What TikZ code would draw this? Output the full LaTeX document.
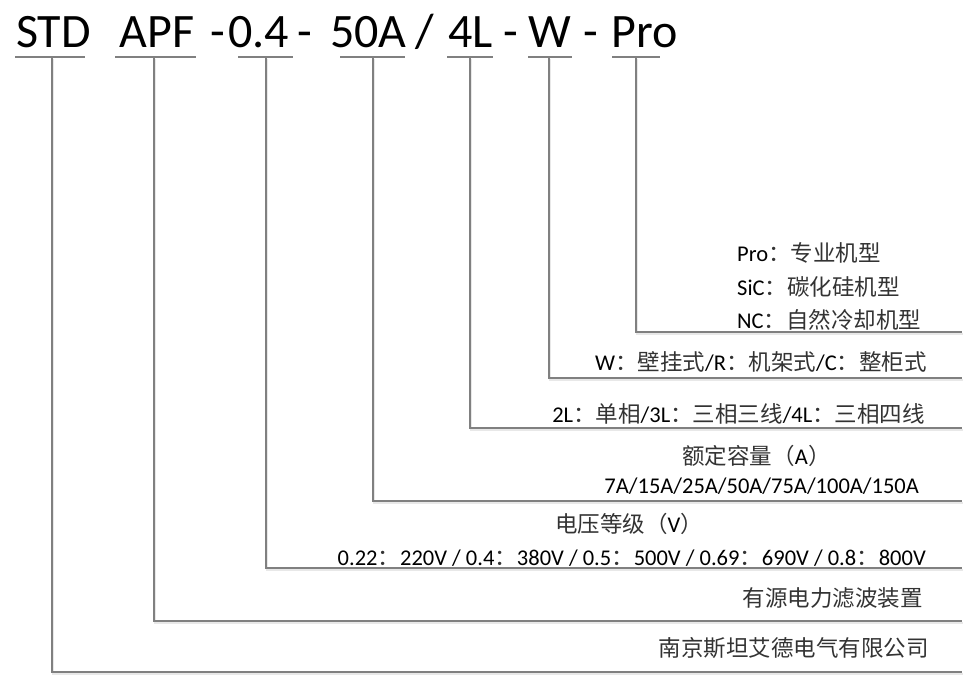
\documentclass[tikz,border=0pt]{standalone}
\usepackage{fontspec}
\setmainfont{Carlito}
\newfontfamily\cjk{Noto Sans CJK SC}
\usetikzlibrary{calc}
\usepackage{xcolor}
\definecolor{linegray}{HTML}{808080}
\definecolor{shadowgray}{HTML}{E8E8E8}
\newcommand{\zh}[1]{{\cjk\color{black!80}#1}}
\tikzset{
    code/.style={inner sep=0pt, anchor=base, font=\fontsize{48}{58}\selectfont},
    desc/.style={inner sep=0pt, font=\fontsize{22.5}{27}\selectfont},
    uline/.style={draw=linegray, line width=1.5pt},
    leader/.style={draw=linegray, line width=1.5pt, preaction={draw=shadowgray, line width=1.5pt, transform canvas={xshift=1pt, yshift=-2pt}}}
}
\begin{document}
\begin{tikzpicture}[x=1pt, y=-1pt]
    \useasboundingbox (0,0) rectangle (972,682);
    % model code
    \node [code] (std) at (53.5,48) {STD};
    \node [code] (apf) at (157,48) {APF};
    \node [code] (dasha) at (217.5,48) {-};
    \node [code] (volt) at (258.5,48) {0.4};
    \node [code] (dashb) at (305,48) {-};
    \node [code] (amp) at (368.5,48) {50A};
    \node [code] (slash) at (424.5,48) {/};
    \node [code] (wire) at (470.5,48) {4L};
    \node [code] (dashc) at (511,48) {-};
    \node [code] (mount) at (550,48) {W};
    \node [code] (dashd) at (591,48) {-};
    \node [code] (model) at (644.5,48) {Pro};

    % underlines
    \path [uline] (15,57) -- (85,57);
    \path [uline] (115,57) -- (196,57);
    \path [uline] (238,57) -- (293,57);
    \path [uline] (340,57) -- (405,57);
    \path [uline] (447,57) -- (493,57);
    \path [uline] (528,57) -- (572,57);
    \path [uline] (612,57) -- (660,57);

    \coordinate (std-u) at (52,57);     \coordinate (std-e) at (962,672);
    \coordinate (apf-u) at (154,57);    \coordinate (apf-e) at (962,621);
    \coordinate (volt-u) at (266,57);   \coordinate (volt-e) at (962,568);
    \coordinate (amp-u) at (373,57);    \coordinate (amp-e) at (962,501);
    \coordinate (wire-u) at (470,57);   \coordinate (wire-e) at (962,428);
    \coordinate (mount-u) at (549,57);  \coordinate (mount-e) at (962,378);
    \coordinate (model-u) at (636,57);  \coordinate (model-e) at (962,332);

    % descriptions
    \node [desc, anchor=base west] (pro) at (737,261) {Pro\zh{：专业机型}};
    \node [desc, anchor=base west] (sic) at (737,295) {SiC\zh{：碳化硅机型}};
    \node [desc, anchor=base west] (nc) at (737,328) {NC\zh{：自然冷却机型}};
    \node [desc, anchor=base east] (mounts) at (927,370) {W\zh{：壁挂式}/R\zh{：机架式}/C\zh{：整柜式}};
    \node [desc, anchor=base east] (wires) at (925,422) {2L\zh{：单相}/3L\zh{：三相三线}/4L\zh{：三相四线}};
    \node [desc, anchor=base] (amptitle) at (756.5,464) {\zh{额定容量（}A\zh{）}};
    \node [desc, anchor=base east] (amps) at (919,493) {7A/15A/25A/50A/75A/100A/150A};
    \node [desc, anchor=base west] (volttitle) at (555,532) {\zh{电压等级（}V\zh{）}};
    \node [desc, anchor=base east] (volts) at (926,565) {0.22\zh{：}220V / 0.4\zh{：}380V / 0.5\zh{：}500V / 0.69\zh{：}690V / 0.8\zh{：}800V};
    \node [desc, anchor=base east] (apfname) at (923,606) {\zh{有源电力滤波装置}};
    \node [desc, anchor=base east] (company) at (929,656) {\zh{南京斯坦艾德电气有限公司}};

    % leaders
    \path [leader] (std-u) |- (std-e);
    \path [leader] (apf-u) |- (apf-e);
    \path [leader] (volt-u) |- (volt-e);
    \path [leader] (amp-u) |- (amp-e);
    \path [leader] (wire-u) |- (wire-e);
    \path [leader] (mount-u) |- (mount-e);
    \path [leader] (model-u) |- (model-e);
\end{tikzpicture}
\end{document}
